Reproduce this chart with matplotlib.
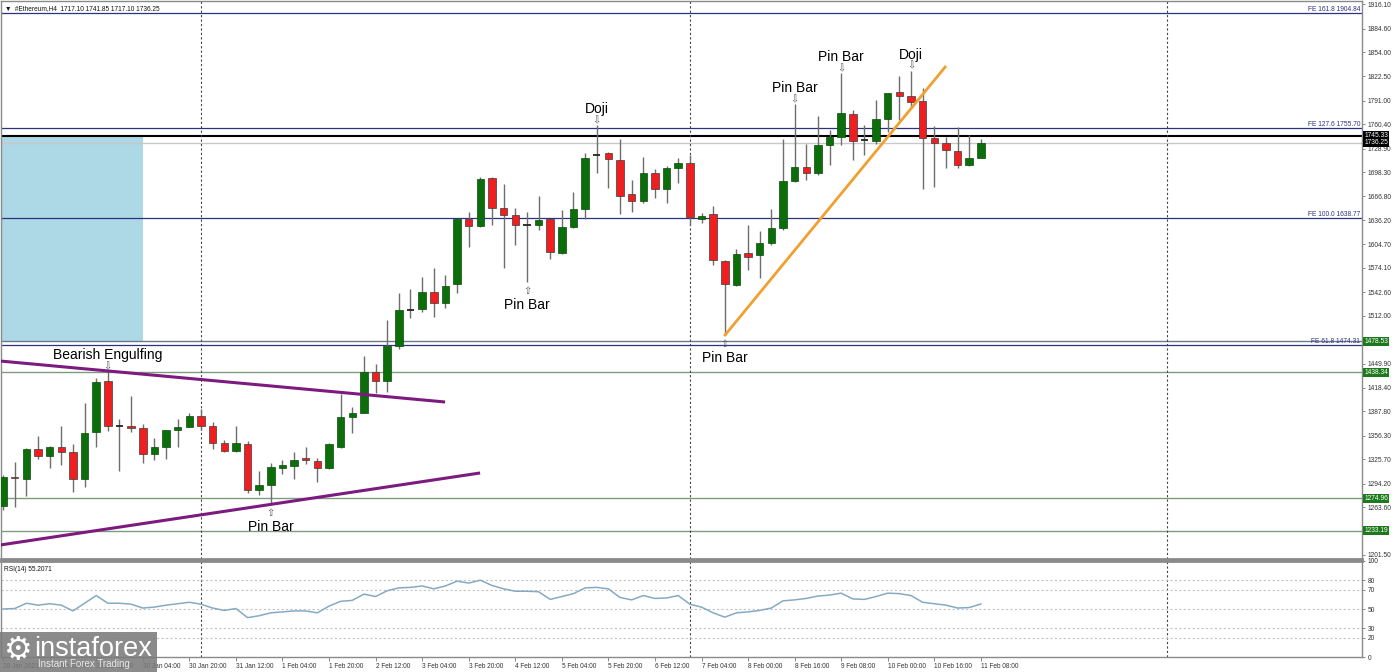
import matplotlib.pyplot as plt
from matplotlib.patches import Rectangle
import matplotlib.transforms as mtransforms

# ETH H4 bars, first bar 28 Jan 04:00
opens = [1265.1, 1303.0, 1299.7, 1339.4, 1329.9, 1341.2, 1334.7, 1299.7, 1361.5, 1427.3,
         1368.9, 1368.9, 1365.9, 1332.5, 1342.0, 1363.6, 1368.0, 1382.2, 1369.2, 1346.4,
         1336.8, 1345.1, 1285.8, 1292.3, 1314.8, 1317.3, 1326.9, 1323.8, 1314.8, 1342.0,
         1380.0, 1386.1, 1438.5, 1427.3, 1472.7, 1519.5, 1520.3, 1543.2, 1528.1, 1552.7,
         1637.1, 1628.4, 1690.3, 1652.2, 1642.7, 1629.7, 1629.7, 1637.1, 1593.0, 1627.5,
         1650.1, 1720.5, 1723.0, 1714.0, 1669.5, 1660.8, 1696.8, 1676.4, 1703.3, 1709.8,
         1638.0, 1644.0, 1583.0, 1551.8, 1593.0, 1590.8, 1606.0, 1625.4, 1687.2, 1705.4,
         1697.6, 1733.5, 1744.3, 1773.7, 1740.0, 1739.1, 1766.9, 1801.9, 1797.1, 1790.6,
         1742.2, 1735.7, 1725.7, 1707.6, 1717.10]
highs = [1305.3, 1322.5, 1340.0, 1356.3, 1343.5, 1368.9, 1345.5, 1399.1, 1430.8, 1440.2,
         1378.0, 1407.8, 1371.4, 1352.9, 1363.3, 1377.6, 1386.1, 1391.3, 1374.4, 1350.7,
         1368.9, 1349.4, 1310.8, 1320.4, 1324.7, 1334.7, 1342.0, 1327.7, 1347.2, 1410.0,
         1393.9, 1459.7, 1449.3, 1506.0, 1541.1, 1546.2, 1562.6, 1573.5, 1564.8, 1637.1,
         1647.0, 1692.4, 1692.4, 1682.9, 1651.4, 1647.0, 1667.3, 1637.1, 1649.2, 1672.9,
         1722.7, 1759.5, 1725.0, 1740.9, 1688.1, 1718.3, 1702.4, 1706.3, 1716.2, 1720.5,
         1644.9, 1654.4, 1583.7, 1598.2, 1629.7, 1622.3, 1650.1, 1740.9, 1787.0, 1734.8,
         1771.1, 1752.9, 1826.9, 1778.9, 1759.5, 1791.9, 1800.6, 1823.0, 1830.0, 1807.1,
         1758.2, 1744.3, 1757.3, 1746.5, 1741.85]
lows = [1259.9, 1264.1, 1278.4, 1326.0, 1314.7, 1318.3, 1283.2, 1290.1, 1342.0, 1362.8,
        1310.8, 1361.5, 1321.2, 1324.7, 1326.0, 1342.0, 1367.0, 1363.7, 1339.0, 1335.5,
        1335.5, 1281.5, 1279.3, 1267.6, 1306.2, 1299.7, 1319.5, 1296.6, 1312.7, 1339.9,
        1359.4, 1386.1, 1411.3, 1413.4, 1468.8, 1508.6, 1517.2, 1510.7, 1521.6, 1541.1,
        1600.8, 1626.7, 1629.7, 1573.5, 1603.8, 1556.1, 1623.2, 1585.2, 1592.1, 1626.0,
        1637.5, 1696.8, 1678.1, 1644.0, 1647.0, 1658.7, 1664.3, 1657.9, 1683.8, 1629.7,
        1631.9, 1577.8, 1487.0, 1550.5, 1571.3, 1560.5, 1604.0, 1623.2, 1685.9, 1688.1,
        1695.0, 1707.6, 1733.5, 1714.1, 1720.5, 1734.8, 1750.8, 1765.9, 1781.1, 1676.0,
        1679.4, 1703.3, 1703.3, 1706.0, 1717.10]
closes = [1302.7, 1301.0, 1339.4, 1329.9, 1342.0, 1334.7, 1299.7, 1360.2, 1426.0, 1368.9,
          1368.9, 1365.9, 1332.5, 1341.2, 1363.3, 1367.6, 1381.8, 1369.2, 1346.4, 1336.8,
          1346.4, 1285.8, 1292.3, 1315.3, 1318.2, 1324.7, 1324.7, 1314.8, 1345.5, 1380.9,
          1386.1, 1438.5, 1427.3, 1472.7, 1519.4, 1519.5, 1543.2, 1528.1, 1550.9, 1637.1,
          1628.4, 1689.0, 1651.4, 1642.7, 1629.7, 1629.7, 1636.2, 1594.3, 1627.5, 1650.5,
          1717.0, 1720.5, 1715.0, 1667.3, 1660.8, 1697.6, 1676.8, 1703.3, 1709.8, 1640.5,
          1642.0, 1584.3, 1552.7, 1592.1, 1588.6, 1606.7, 1625.4, 1687.2, 1705.4, 1697.6,
          1733.5, 1744.3, 1774.6, 1739.1, 1740.0, 1766.9, 1800.6, 1797.1, 1789.7, 1742.2,
          1735.7, 1727.0, 1707.6, 1717.1, 1736.25]

rsi = [50, 50.5, 56, 54, 55.5, 54, 48, 56, 64, 56,
       56, 55, 51, 52, 54, 55.5, 57, 55, 51, 48.5,
       50.5, 41, 43, 46, 47, 48, 48, 46, 53, 58,
       59, 65.5, 63, 69, 72, 72.5, 74, 71, 74, 79,
       77, 80, 74.5, 71, 68.5, 68.5, 68, 60, 63, 66,
       72, 72.5, 71, 62, 59.5, 64, 61, 61.5, 64, 55,
       52, 46, 41.5, 46, 47, 48.5, 51, 58.5, 59.5, 61,
       63.5, 64.5, 66.5, 60.5, 60, 63, 66.5, 66, 64, 57,
       55.5, 54, 51, 51.5, 55.2071]

price_ticks = [1916.10, 1884.60, 1854.00, 1822.50, 1791.00, 1760.40, 1728.90, 1698.30,
               1666.80, 1636.20, 1604.70, 1574.10, 1542.60, 1512.00, 1449.90, 1418.40,
               1387.80, 1356.30, 1325.70, 1294.20, 1263.60, 1201.50]
time_pos = list(range(0, 85, 4))
time_labels = ["28 Jan 2021", "28 Jan 20:00", "29 Jan 12:00", "30 Jan 04:00", "30 Jan 20:00",
               "31 Jan 12:00", "1 Feb 04:00", "1 Feb 20:00", "2 Feb 12:00", "3 Feb 04:00",
               "3 Feb 20:00", "4 Feb 12:00", "5 Feb 04:00", "5 Feb 20:00", "6 Feb 12:00",
               "7 Feb 04:00", "8 Feb 00:00", "8 Feb 16:00", "9 Feb 08:00", "10 Feb 00:00",
               "10 Feb 16:00", "11 Feb 08:00"]
week_seps = [17, 59, 100]

fe_values = [1904.84, 1755.70, 1638.77, 1474.31]
fe_names = ["FE 161.8", "FE 127.6", "FE 100.0", "FE 61.8"]
sr_levels = [1478.53, 1438.34, 1274.96, 1233.19]
key_level = 1745.33
bid = 1736.25
zone = (12.0, 1478.53, 1745.33)  # right edge index, low, high

purple_up = [(-0.26, 37.97), (1453.2, 1400.0)]
purple_low = [(-0.26, 40.98), (1214.4, 1307.9)]
orange = [(62.03, 80.93), (1487.0, 1834.7)]

notes = [(9, "Bearish Engulfing", "above"), (23, "Pin Bar", "below"), (45, "Pin Bar", "below"),
         (51, "Doji", "above"), (62, "Pin Bar", "below"), (68, "Pin Bar", "above"),
         (72, "Pin Bar", "above"), (78, "Doji", "above")]

GREEN = "#0b6e0b"
RED = "#f01e1e"
WICK = "#6e6e6e"
NAVY = "#2b3280"
LVL = "#7f9a7f"
TXT = "#333333"
SMALL = ["Liberation Sans", "DejaVu Sans"]

fig = plt.figure(figsize=(13.95, 6.72), dpi=100)
ax = fig.add_axes([0.0008, 0.1682, 0.9756, 0.8303])
ax2 = fig.add_axes([0.0008, 0.0223, 0.9756, 0.1429])

xmin, xmax = -0.17, 116.75
ax.set_xlim(xmin, xmax)
ax.set_ylim(1196.3, 1920.4)

# zone box
ax.add_patch(Rectangle((xmin, zone[1]), zone[0] - xmin, zone[2] - zone[1],
                       facecolor="#add8e6", edgecolor="none", zorder=0))

# levels
for v in fe_values:
    ax.axhline(v, color=NAVY, lw=0.9, zorder=1)
for v in sr_levels:
    ax.axhline(v, color=LVL if v != 1478.53 else "#6d7a8a", lw=1.0, zorder=1)
ax.axhline(bid, color="#c8c8c8", lw=1.0, zorder=1)
ax.axhline(key_level, color="black", lw=1.5, zorder=1)

for s in week_seps:
    ax.axvline(s, color="#444444", lw=0.8, ls=(0, (2, 2)), zorder=1)
    ax2.axvline(s, color="#444444", lw=0.8, ls=(0, (2, 2)), zorder=1)

# candles
n = len(opens)
for i in range(n):
    o, h, l, c = opens[i], highs[i], lows[i], closes[i]
    ax.vlines(i, l, h, color=WICK, lw=1.0, zorder=2)
    if o == c:
        ax.hlines(o, i - 0.32, i + 0.32, color="#222222", lw=1.3, zorder=3)
    else:
        col = GREEN if c > o else RED
        ax.bar(i, abs(c - o), bottom=min(o, c), width=0.64, color=col,
               edgecolor="#3a3a3a" if c < o else "#0a4a0a", linewidth=0.5, zorder=3)

# trend lines
ax.plot(purple_up[0], purple_up[1], color="#7d1a80", lw=2.2, zorder=4, solid_capstyle="butt")
ax.plot(purple_low[0], purple_low[1], color="#7d1a80", lw=2.2, zorder=4, solid_capstyle="butt")
ax.plot(orange[0], orange[1], color="#f0a030", lw=2.0, zorder=4)

# pattern notes
for i, txt, side in notes:
    if side == "above":
        ax.annotate("\u21e9", (i, highs[i]), xytext=(0, 3.5), textcoords="offset points",
                    ha="center", va="center", fontsize=7, color="#555555", zorder=5)
        ax.annotate(txt, (i, highs[i]), xytext=(0, 11.5), textcoords="offset points",
                    ha="center", va="center", fontsize=10, family="Liberation Sans", zorder=5)
    else:
        ax.annotate("\u21e7", (i, lows[i]), xytext=(0, -6.5), textcoords="offset points",
                    ha="center", va="center", fontsize=7, color="#555555", zorder=5)
        ax.annotate(txt, (i, lows[i]), xytext=(0, -16.5), textcoords="offset points",
                    ha="center", va="center", fontsize=10, family="Liberation Sans", zorder=5)

# FE labels
for v, name in zip(fe_values, fe_names):
    ax.text(0.9985, v, f"{name} {v:.2f}", transform=ax.get_yaxis_transform(),
            ha="right", va="bottom", fontsize=4.8, color=NAVY, family=SMALL, zorder=6)

# right price scale
ax.yaxis.tick_right()
ax.set_yticks(price_ticks)
ax.set_yticklabels([f"{t:.2f}" for t in price_ticks], family=SMALL)
ax.tick_params(axis="y", labelsize=4.8, labelcolor=TXT, length=2.5, width=0.6, color="#777777", pad=1.5)
ax.set_xticks([])
for sp in ax.spines.values():
    sp.set_color("#8a8a8a")
    sp.set_linewidth(1.0)
ax.spines["bottom"].set_linewidth(2.0)

tr = mtransforms.blended_transform_factory(ax.transAxes, ax.transData)
for v, fc in [(key_level, "black"), (bid, "black")] + [(v, "#1c7a1c") for v in sr_levels]:
    ax.text(1.0015, v, f"{v:.2f}", transform=tr, ha="left", va="center", fontsize=4.8,
            color="white", family=SMALL, zorder=7, clip_on=False,
            bbox=dict(boxstyle="square,pad=0.15", fc=fc, ec="none"))

ax.text(0.003, 0.993, "\u25bc  #Ethereum,H4  1717.10 1741.85 1717.10 1736.25",
        transform=ax.transAxes, ha="left", va="top", fontsize=4.7, color="#111111", family=SMALL)

# RSI panel
ax2.set_xlim(xmin, xmax)
ax2.set_ylim(0, 100)
for lv in [80, 70, 50, 30, 20]:
    ax2.axhline(lv, color="#c4c4c4", lw=0.8, ls=(0, (2, 2)), zorder=1)
ax2.plot(range(n), rsi, color="#86aac4", lw=1.1, zorder=3)
ax2.yaxis.tick_right()
ax2.set_yticks([0, 20, 30, 50, 70, 80, 100])
ax2.set_yticklabels(["0", "20", "30", "50", "70", "80", "100"], family=SMALL)
ax2.tick_params(axis="y", labelsize=4.8, labelcolor=TXT, length=2.5, width=0.6, color="#777777", pad=1.5)
ax2.set_xticks(time_pos)
ax2.set_xticklabels(time_labels, ha="left", family=SMALL)
ax2.tick_params(axis="x", labelsize=4.7, labelcolor=TXT, length=3, width=0.6, color="#777777", pad=1.5)
for sp in ax2.spines.values():
    sp.set_color("#8a8a8a")
    sp.set_linewidth(1.0)
ax2.spines["top"].set_linewidth(2.0)
ax2.text(0.002, 0.95, "RSI(14) 55.2071", transform=ax2.transAxes, ha="left", va="top",
         fontsize=4.7, color="#111111", family=SMALL)

# logo
fig.add_artist(Rectangle((0, 0), 157 / 1395, 40 / 672, transform=fig.transFigure,
                         facecolor="#7b7b7b", alpha=0.88, edgecolor="none", zorder=10))
fig.text(18 / 1395, 1 - 650 / 672, "\u2699", ha="center", va="center", fontsize=23,
         color="white", zorder=11)
fig.text(34 / 1395, 1 - 649 / 672, "instaforex", ha="left", va="center", fontsize=19.5,
         color="white", family="Liberation Sans", zorder=11)
fig.text(38 / 1395, 1 - 664 / 672, "Instant Forex Trading", ha="left", va="center",
         fontsize=7, color="#e8e8e8", family="Liberation Sans", zorder=11)

plt.savefig("out.png", dpi=100)
